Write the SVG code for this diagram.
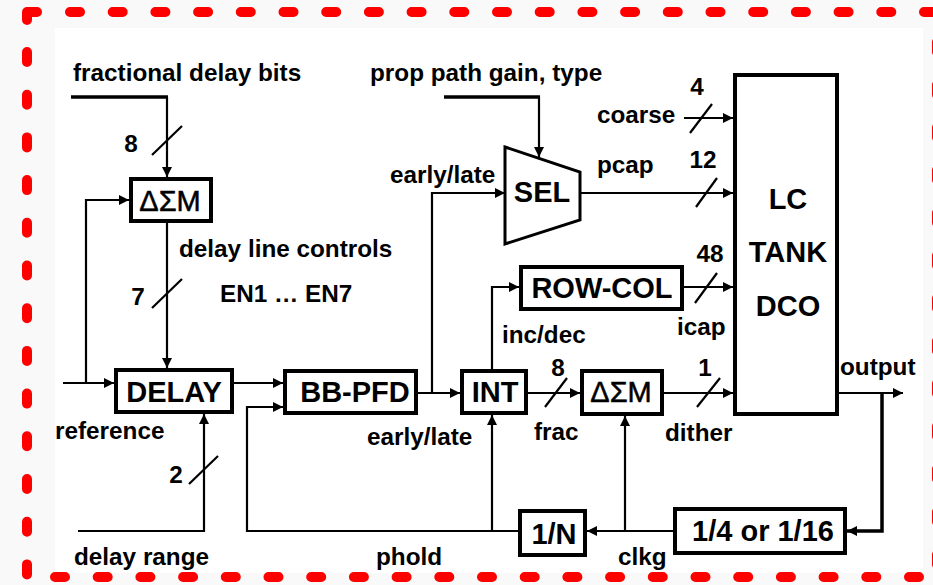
<svg xmlns="http://www.w3.org/2000/svg" width="933" height="585" viewBox="0 0 933 585">
<style>
.lbl{font-family:"Liberation Sans",Arial,sans-serif;font-weight:bold;font-size:24.3px;fill:#000}
.box{fill:#fff;stroke:#000;stroke-width:4}
.bt{font-family:"Liberation Sans",Arial,sans-serif;font-weight:bold;font-size:29px;fill:#000;text-anchor:middle}
.ds{font-family:"Liberation Sans",Arial,sans-serif;font-weight:normal;font-size:29px;fill:#000;text-anchor:middle;stroke:#000;stroke-width:0.5}
.c{fill:none;stroke:#000;stroke-width:2.2}
.thick{fill:none;stroke:#000;stroke-width:3.5}
.sl{stroke:#000;stroke-width:2.2}
.red{fill:none;stroke:#ff0000;stroke-width:10;stroke-linecap:round;stroke-linejoin:round}
.reddash{stroke-dasharray:10 32.7}
.mid{text-anchor:middle}
</style>
<defs>
<marker id="ah" viewBox="0 0 10 10" refX="10" refY="5" markerWidth="11" markerHeight="10" markerUnits="userSpaceOnUse" orient="auto">
<path d="M0,0 L10,5 L0,10 z" fill="#000"/>
</marker>
</defs>
<rect x="0" y="0" width="933" height="585" fill="#f9f9f9"/>
<rect x="55" y="28" width="868" height="545" fill="#fff"/>
<g id="border">
<path class="red" d="M27,20 L27,12 L37,12"/>
<path class="red reddash" d="M70,12 H933"/>
<path class="red reddash" d="M27,52 V580"/>
<path class="red reddash" d="M55,577 H933"/>
<path class="red reddash" d="M937,42 V580"/>
</g>
<g id="connectors">
<path class="thick" d="M71,97 H168"/>
<path class="c" d="M167,97 V177" marker-end="url(#ah)"/>
<path class="c" d="M167,223 V368" marker-end="url(#ah)"/>
<path class="c" d="M86,383 V200 H129" marker-end="url(#ah)"/>
<path class="c" d="M63,383 H114" marker-end="url(#ah)"/>
<path class="c" d="M78,531 H204 V414" marker-end="url(#ah)"/>
<path class="c" d="M234,383 H283" marker-end="url(#ah)"/>
<path class="c" d="M518,531 H247 V407 H283" marker-end="url(#ah)"/>
<path class="c" d="M418,393 H460" marker-end="url(#ah)"/>
<path class="c" d="M432,393 V193 H505" marker-end="url(#ah)"/>
<path class="thick" d="M444,97 H540"/>
<path class="c" d="M539,97 V157" marker-end="url(#ah)"/>
<path class="c" d="M580,193 H733" marker-end="url(#ah)"/>
<path class="c" d="M684,118 H733" marker-end="url(#ah)"/>
<path class="c" d="M492,369 V287 H519" marker-end="url(#ah)"/>
<path class="c" d="M684,287 H733" marker-end="url(#ah)"/>
<path class="c" d="M528,393 H580" marker-end="url(#ah)"/>
<path class="c" d="M664,393 H733" marker-end="url(#ah)"/>
<path class="c" d="M839,393 H903" marker-end="url(#ah)"/>
<path class="thick" d="M882,393 V531 H847" marker-end="url(#ah)"/>
<path class="c" d="M673,531 H587" marker-end="url(#ah)"/>
<path class="c" d="M625,531 V416" marker-end="url(#ah)"/>
<path class="c" d="M492,531 V415" marker-end="url(#ah)"/>
<line class="sl" x1="152" y1="155" x2="182" y2="126"/>
<line class="sl" x1="152" y1="308" x2="182" y2="279"/>
<line class="sl" x1="189" y1="484" x2="218" y2="456"/>
<line class="sl" x1="690" y1="133" x2="712" y2="104"/>
<line class="sl" x1="696" y1="207" x2="717" y2="178"/>
<line class="sl" x1="695" y1="303" x2="717" y2="273"/>
<line class="sl" x1="545" y1="407" x2="567" y2="378"/>
<line class="sl" x1="697" y1="407" x2="720" y2="378"/>
</g>
<g id="dsm1">
<rect class="box" x="131" y="179" width="80" height="42"/>
<text class="ds" x="170" y="211">ΔΣM</text>
</g>
<g id="delay">
<rect class="box" x="116" y="370" width="116" height="42"/>
<text class="bt" x="174" y="402">DELAY</text>
</g>
<g id="bbpfd">
<rect class="box" x="285" y="371" width="131" height="42"/>
<text class="bt" x="355" y="402">BB-PFD</text>
</g>
<g id="int">
<rect class="box" x="462" y="371" width="64" height="42"/>
<text class="bt" x="495" y="402">INT</text>
</g>
<g id="dsm2">
<rect class="box" x="582" y="371" width="80" height="43"/>
<text class="ds" x="621" y="402">ΔΣM</text>
</g>
<g id="sel">
<polygon points="505,147 580,172 580,220 505,244" fill="#fff" stroke="#000" stroke-width="3"/>
<text class="bt" x="542" y="202">SEL</text>
</g>
<g id="rowcol">
<rect class="box" x="521" y="267" width="161" height="42"/>
<text class="bt" x="602" y="298">ROW-COL</text>
</g>
<g id="dco">
<rect class="box" x="735" y="75" width="102" height="339"/>
<text class="bt" x="788" y="209">LC</text>
<text class="bt" x="788" y="262">TANK</text>
<text class="bt" x="788" y="316">DCO</text>
</g>
<g id="divn">
<rect class="box" x="520" y="511" width="65" height="44"/>
<text class="bt" x="554" y="544">1/N</text>
</g>
<g id="div4">
<rect class="box" x="675" y="509" width="170" height="44"/>
<text class="bt" x="763" y="541">1/4 or 1/16</text>
</g>
<g id="labels">
<text class="lbl" x="73" y="81">fractional delay bits</text>
<text class="lbl" x="370" y="81">prop path gain, type</text>
<text class="lbl mid" x="131" y="152">8</text>
<text class="lbl" x="390" y="183">early/late</text>
<text class="lbl" x="597" y="123">coarse</text>
<text class="lbl mid" x="697" y="95">4</text>
<text class="lbl" x="597" y="173">pcap</text>
<text class="lbl mid" x="703" y="168">12</text>
<text class="lbl" x="179" y="257">delay line controls</text>
<text class="lbl mid" x="710" y="262">48</text>
<text class="lbl mid" x="138" y="305">7</text>
<text class="lbl" x="220" y="302">EN1 … EN7</text>
<text class="lbl" x="502" y="343">inc/dec</text>
<text class="lbl" x="677" y="335">icap</text>
<text class="lbl" x="840" y="375">output</text>
<text class="lbl mid" x="558" y="376">8</text>
<text class="lbl mid" x="705" y="376">1</text>
<text class="lbl" x="55" y="439">reference</text>
<text class="lbl" x="367" y="445">early/late</text>
<text class="lbl" x="534" y="440">frac</text>
<text class="lbl" x="665" y="441">dither</text>
<text class="lbl mid" x="176" y="483">2</text>
<text class="lbl" x="74" y="565">delay range</text>
<text class="lbl" x="376" y="565">phold</text>
<text class="lbl" x="618" y="565">clkg</text>
</g>
</svg>
